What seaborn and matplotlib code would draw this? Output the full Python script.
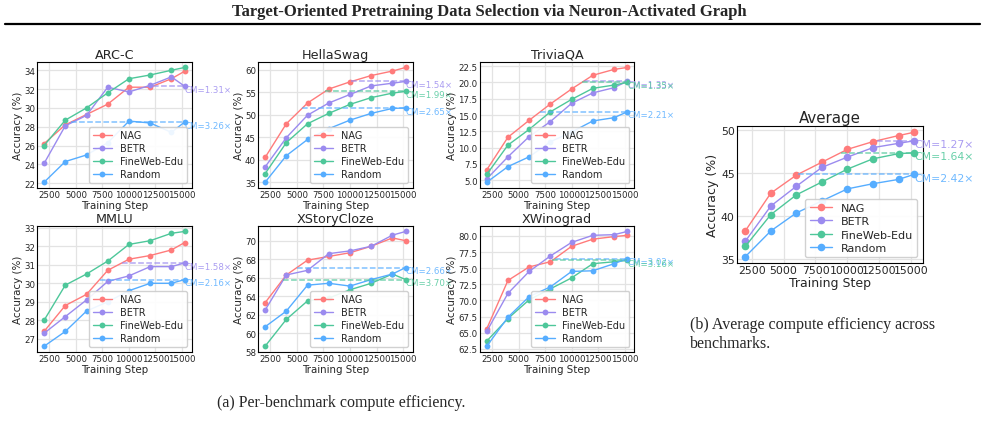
import matplotlib.pyplot as plt
from matplotlib.lines import Line2D
from matplotlib.ticker import MultipleLocator
import pandas as pd
import seaborn as sns

sns.set_style('whitegrid')
plt.rcParams['font.family'] = ['DejaVu Sans']

## 공통 데이터
steps = [2000, 4000, 6000, 8000, 10000, 12000, 14000, 15250]
methods = ['NAG', 'BETR', 'FineWeb-Edu', 'Random']
colors = {'NAG': '#FF7B7B', 'BETR': '#9B8BEF', 'FineWeb-Edu': '#4EC79A', 'Random': '#56ADFF'}

## 벤치마크별 정확도 (%)
arc_c = {
    'NAG': [26.2, 28.2, 29.3, 30.4, 32.2, 32.2, 33.1, 33.9],
    'BETR': [24.1, 28.1, 29.2, 32.2, 31.7, 32.4, 33.3, 32.3],
    'FineWeb-Edu': [26.0, 28.7, 30.0, 31.6, 33.1, 33.5, 34.0, 34.3],
    'Random': [22.1, 24.3, 25.0, 26.3, 28.6, 28.4, 27.4, 28.5],
}
hellaswag = {
    'NAG': [40.5, 48.0, 52.6, 55.7, 57.3, 58.7, 59.7, 60.5],
    'BETR': [38.4, 44.9, 49.9, 52.6, 54.5, 56.4, 57.0, 57.4],
    'FineWeb-Edu': [36.9, 43.8, 48.0, 50.3, 52.3, 53.8, 54.8, 55.2],
    'Random': [35.0, 40.9, 44.5, 46.9, 48.8, 50.3, 51.4, 51.5],
}
triviaqa = {
    'NAG': [6.6, 11.6, 14.2, 16.7, 19.0, 21.1, 22.0, 22.3],
    'BETR': [5.2, 8.6, 11.7, 14.0, 16.8, 18.4, 19.2, 20.2],
    'FineWeb-Edu': [5.9, 10.4, 12.8, 15.5, 17.4, 19.1, 19.6, 20.0],
    'Random': [4.7, 7.1, 8.6, 10.9, 12.4, 14.1, 14.6, 15.5],
}
mmlu = {
    'NAG': [27.4, 28.8, 29.4, 30.7, 31.3, 31.5, 31.8, 32.2],
    'BETR': [27.3, 28.2, 29.1, 30.1, 30.4, 30.9, 30.9, 31.1],
    'FineWeb-Edu': [28.0, 29.9, 30.5, 31.2, 32.1, 32.3, 32.7, 32.8],
    'Random': [26.6, 27.4, 28.5, 29.0, 29.6, 30.0, 30.0, 30.2],
}
xstorycloze = {
    'NAG': [63.3, 66.3, 67.9, 68.3, 68.7, 69.4, 70.3, 70.0],
    'BETR': [62.5, 66.3, 66.8, 68.6, 68.9, 69.4, 70.6, 71.0],
    'FineWeb-Edu': [58.6, 61.5, 63.5, 63.8, 64.7, 65.4, 66.4, 65.8],
    'Random': [60.7, 62.4, 65.2, 65.4, 65.1, 65.8, 66.4, 67.1],
}
xwinograd = {
    'NAG': [65.6, 73.1, 75.2, 76.0, 78.4, 79.5, 79.9, 80.1],
    'BETR': [65.2, 71.1, 74.5, 76.9, 79.0, 80.1, 80.2, 80.7],
    'FineWeb-Edu': [63.7, 67.2, 70.1, 71.8, 73.5, 75.7, 76.0, 76.2],
    'Random': [62.9, 67.4, 70.6, 72.1, 74.5, 74.6, 75.7, 76.5],
}
average = {
    'NAG': [38.3, 42.7, 44.8, 46.3, 47.8, 48.7, 49.4, 49.8],
    'BETR': [37.1, 41.2, 43.5, 45.7, 46.9, 48.0, 48.5, 48.8],
    'FineWeb-Edu': [36.5, 40.2, 42.5, 44.0, 45.5, 46.7, 47.3, 47.4],
    'Random': [35.3, 38.3, 40.4, 41.8, 43.2, 43.8, 44.3, 44.9],
}

## 연산 효율 배수 (CM)
cm_arc_c = {'BETR': 1.31, 'Random': 3.26}
cm_hellaswag = {'BETR': 1.54, 'FineWeb-Edu': 1.99, 'Random': 2.65}
cm_triviaqa = {'BETR': 1.33, 'FineWeb-Edu': 1.35, 'Random': 2.21}
cm_mmlu = {'BETR': 1.58, 'Random': 2.16}
cm_xstorycloze = {'Random': 2.66, 'FineWeb-Edu': 3.70}
cm_xwinograd = {'Random': 3.02, 'FineWeb-Edu': 3.16}
cm_average = {'BETR': 1.27, 'FineWeb-Edu': 1.64, 'Random': 2.42}

## y축 눈금 간격
ystep = {'ARC-C': 2, 'HellaSwag': 5, 'TriviaQA': 2.5, 'MMLU': 1,
         'XStoryCloze': 2, 'XWinograd': 2.5, 'Average': 5}


def reach_step(nag, target):
    # NAG가 target 성능에 처음 도달하는 스텝 (선형 보간)
    for i in range(len(nag)):
        if nag[i] >= target:
            if i == 0:
                return steps[0]
            t = (target - nag[i - 1]) / (nag[i] - nag[i - 1])
            return steps[i - 1] + t * (steps[i] - steps[i - 1])
    return steps[-1]


def draw(ax, title, data, cm, fs=6.2, lfs=7.0, ms=4.2):
    df = pd.DataFrame([
        {'step': s, 'acc': v, 'method': m}
        for m in methods for s, v in zip(steps, data[m])
    ])
    sns.lineplot(data=df, x='step', y='acc', hue='method', hue_order=methods,
                 palette=colors, marker='o', markersize=ms, markeredgewidth=0,
                 linewidth=1.0, ax=ax)
    for m, ratio in cm.items():
        target = data[m][-1]
        x0 = reach_step(data['NAG'], target)
        ax.plot([x0, steps[-1]], [target, target], ls='--',
                color=colors[m], alpha=0.75, lw=1.1)
        ax.annotate(f'CM={ratio:.2f}×', xy=(steps[-1], target), xytext=(0, 1),
                    textcoords='offset points', ha='left', va='top',
                    fontsize=fs, color=colors[m], alpha=0.85, annotation_clip=False)
    ax.set_title(title, fontsize=fs + 3, pad=3)
    ax.set_xlabel('Training Step', fontsize=fs + 1.2, labelpad=1)
    ax.set_ylabel('Accuracy (%)', fontsize=fs + 1.2, labelpad=1)
    ax.set_xticks([2500, 5000, 7500, 10000, 12500, 15000])
    ax.yaxis.set_major_locator(MultipleLocator(ystep[title]))
    ax.tick_params(labelsize=fs, pad=1.5, length=0)
    ax.grid(color='#e3e3e3', lw=0.9)
    for sp in ax.spines.values():
        sp.set_color('black')
        sp.set_linewidth(0.8)
    ax.legend(loc='lower right', fontsize=lfs, title=None, framealpha=0.9,
              borderpad=0.4, labelspacing=0.3, handlelength=2.0)


fig = plt.figure(figsize=(9.85, 4.31), dpi=100)

row1, row2 = 0.5615, 0.181
h = 0.293
w = 0.157
charts = [
    ([0.0376, row1, w, h], 'ARC-C', arc_c, cm_arc_c),
    ([0.262, row1, w, h], 'HellaSwag', hellaswag, cm_hellaswag),
    ([0.487, row1, w, h], 'TriviaQA', triviaqa, cm_triviaqa),
    ([0.0376, row2, w, h], 'MMLU', mmlu, cm_mmlu),
    ([0.262, row2, w, h], 'XStoryCloze', xstorycloze, cm_xstorycloze),
    ([0.487, row2, w, h], 'XWinograd', xwinograd, cm_xwinograd),
]
for rect, title, data, cm in charts:
    draw(fig.add_axes(rect), title, data, cm)

ax_avg = fig.add_axes([0.748, 0.3875, 0.189, 0.318])
draw(ax_avg, 'Average', average, cm_average, fs=7.8, lfs=8.0, ms=5.5)

## 제목, 구분선, 캡션
fig.text(0.497, 0.972, 'Target-Oriented Pretraining Data Selection via Neuron-Activated Graph',
         ha='center', va='center', family='Liberation Serif', weight='bold', fontsize=12)
fig.add_artist(Line2D([0.005, 0.995], [0.942, 0.942], color='black', lw=1.6))
fig.text(0.346, 0.065, '(a) Per-benchmark compute efficiency.', ha='center', va='center',
         family='Liberation Serif', fontsize=11.5)
fig.text(0.700, 0.245, '(b) Average compute efficiency across', ha='left', va='center',
         family='Liberation Serif', fontsize=11.5)
fig.text(0.700, 0.203, 'benchmarks.', ha='left', va='center',
         family='Liberation Serif', fontsize=11.5)

fig.savefig('out.png', dpi=100)
